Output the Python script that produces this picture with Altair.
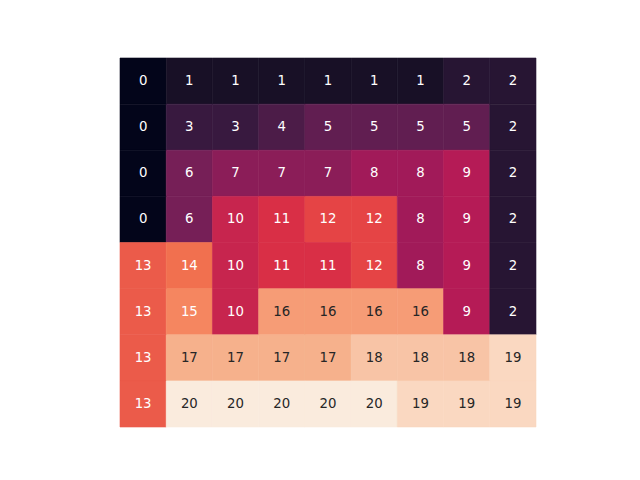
import altair as alt
import pandas as pd

row0 = [0, 1, 1, 1, 1, 1, 1, 2, 2]
row1 = [0, 3, 3, 4, 5, 5, 5, 5, 2]
row2 = [0, 6, 7, 7, 7, 8, 8, 9, 2]
row3 = [0, 6, 10, 11, 12, 12, 8, 9, 2]
row4 = [13, 14, 10, 11, 11, 12, 8, 9, 2]
row5 = [13, 15, 10, 16, 16, 16, 16, 9, 2]
row6 = [13, 17, 17, 17, 17, 18, 18, 18, 19]
row7 = [13, 20, 20, 20, 20, 20, 19, 19, 19]
rows = [row0, row1, row2, row3, row4, row5, row6, row7]

records = []
for r, vals in enumerate(rows):
    for c, v in enumerate(vals):
        records.append({"row": r, "col": c, "v": v})
df = pd.DataFrame(records)

rocket_domain = [0, 20/7, 40/7, 60/7, 80/7, 100/7, 120/7, 20]
rocket_range = ["#03051a", "#35193e", "#701f57", "#ad1759", "#e13342", "#f37651", "#f6b48f", "#faebdd"]
cscale = alt.Scale(domain=rocket_domain, range=rocket_range, interpolate="lab")

base = alt.Chart(df).encode(
    x=alt.X("col:O", axis=None, scale=alt.Scale(paddingInner=0, paddingOuter=0)),
    y=alt.Y("row:O", axis=None, scale=alt.Scale(paddingInner=0, paddingOuter=0)),
)

rects = base.mark_rect(strokeWidth=0.6).encode(
    color=alt.Color("v:Q", legend=None, scale=cscale),
    stroke=alt.Stroke("v:Q", legend=None, scale=cscale),
)

texts = base.mark_text(font="DejaVu Sans", fontSize=13.3, baseline="middle", align="center").encode(
    text="v:Q",
    color=alt.condition(alt.datum.v >= 16, alt.value("#262626"), alt.value("white")),
)

chart = (rects + texts).properties(
    width=416, height=369,
    autosize=alt.AutoSizeParams(type="none"),
    padding={"left": 120, "top": 58, "right": 104, "bottom": 53},
).configure_view(stroke=None)

chart.save("out.html", embed_options={"renderer": "svg", "actions": False})
